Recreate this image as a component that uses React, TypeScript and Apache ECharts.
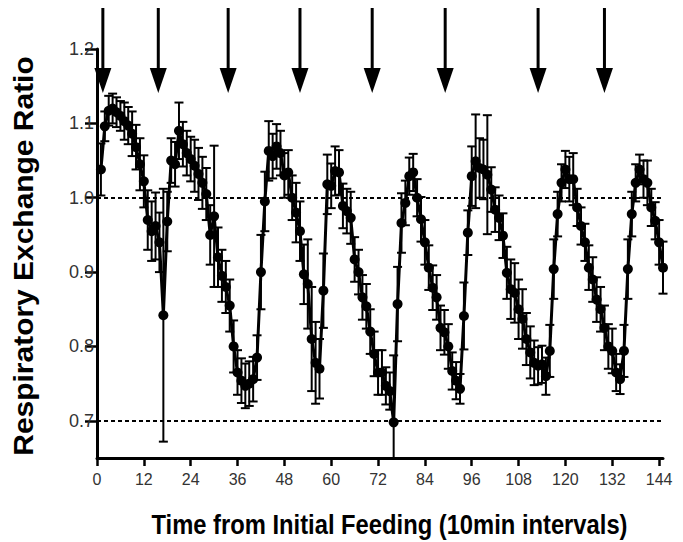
import React, { useEffect, useRef } from "react";
import * as echarts from "echarts";

// Respiratory exchange ratio, mean per 10-min interval (intervals 1..145)
const rerPart1 = [
  1.038, 1.096, 1.117, 1.12, 1.115, 1.11, 1.103, 1.097, 1.086, 1.068, 1.045, 1.022,
  0.97, 0.955, 0.962, 0.94, 0.842, 0.968, 1.05, 1.045, 1.09, 1.072, 1.06, 1.052,
  1.043, 1.032, 1.02, 1.005, 0.95, 0.975, 0.92, 0.895, 0.88, 0.855, 0.8, 0.765,
];
const rerPart2 = [
  0.754, 0.747, 0.75, 0.756, 0.785, 0.9, 0.995, 1.063, 1.056, 1.069, 1.06, 1.03,
  1.034, 1.0, 0.98, 0.955, 0.897, 0.884, 0.81, 0.778, 0.77, 0.875, 1.018, 1.016,
  1.036, 1.034, 0.989, 0.982, 0.973, 0.917, 0.9, 0.866, 0.854, 0.82, 0.79, 0.765,
];
const rerPart3 = [
  0.765, 0.747, 0.74, 0.698, 0.857, 0.966, 0.993, 1.029, 1.034, 1.0, 0.971, 0.94,
  0.906, 0.879, 0.866, 0.825, 0.819, 0.8, 0.767, 0.754, 0.743, 0.841, 0.953, 1.029,
  1.049, 1.04, 1.038, 1.031, 1.011, 0.984, 0.973, 0.949, 0.899, 0.877, 0.872, 0.85,
];
const rerPart4 = [
  0.837, 0.81, 0.792, 0.778, 0.774, 0.776, 0.76, 0.794, 0.904, 0.978, 1.02, 1.038,
  1.025, 1.025, 0.987, 0.962, 0.94, 0.906, 0.89, 0.863, 0.85, 0.825, 0.8, 0.794,
  0.765, 0.756, 0.794, 0.904, 0.978, 1.02, 1.038, 1.025, 1.02, 0.987, 0.969, 0.94,
  0.906,
];

// Error (SEM) per interval
const errPart1 = [
  0.035, 0.02, 0.02, 0.02, 0.02, 0.02, 0.025, 0.025, 0.03, 0.03, 0.035, 0.035,
  0.04, 0.04, 0.045, 0.04, 0.17, 0.04, 0.03, 0.03, 0.038, 0.03, 0.03, 0.03,
  0.035, 0.035, 0.035, 0.035, 0.04, 0.095, 0.04, 0.035, 0.035, 0.035, 0.035, 0.03,
];
const errPart2 = [
  0.03, 0.03, 0.03, 0.03, 0.03, 0.05, 0.04, 0.04, 0.03, 0.03, 0.03, 0.03,
  0.03, 0.03, 0.04, 0.04, 0.04, 0.06, 0.07, 0.055, 0.04, 0.05, 0.04, 0.03,
  0.033, 0.03, 0.03, 0.03, 0.035, 0.03, 0.03, 0.03, 0.03, 0.03, 0.03, 0.03,
];
const errPart3 = [
  0.03, 0.025, 0.025, 0.09, 0.05, 0.04, 0.03, 0.025, 0.025, 0.025, 0.03, 0.03,
  0.03, 0.03, 0.03, 0.03, 0.03, 0.03, 0.025, 0.025, 0.02, 0.045, 0.03, 0.04,
  0.063, 0.04, 0.04, 0.08, 0.03, 0.03, 0.03, 0.03, 0.035, 0.04, 0.04, 0.04,
];
const errPart4 = [
  0.04, 0.035, 0.035, 0.03, 0.025, 0.025, 0.025, 0.035, 0.04, 0.03, 0.025, 0.025,
  0.03, 0.035, 0.025, 0.025, 0.025, 0.03, 0.03, 0.03, 0.03, 0.03, 0.03, 0.03,
  0.025, 0.02, 0.035, 0.04, 0.03, 0.025, 0.02, 0.025, 0.03, 0.025, 0.025, 0.03,
  0.035,
];

// Feeding times (arrows), in 10-min intervals
const feedingTimes = [1.5, 15.7, 33.6, 52, 70.5, 89.2, 113, 130];

const xTickValues = [0, 12, 24, 36, 48, 60, 72, 84, 96, 108, 120, 132, 144];
const yTickValues = [0.7, 0.8, 0.9, 1.0, 1.1, 1.2];
const referenceLines = [1.0, 0.7];

const X_MIN = 0;
const X_MAX = 145;
const Y_MIN = 0.65;
const Y_MAX = 1.2;

const FONT = "'Liberation Sans', Arial, Helvetica, sans-serif";

export default function App() {
  const ref = useRef<HTMLDivElement>(null);

  useEffect(() => {
    if (!ref.current) return;
    const chart = echarts.init(ref.current, undefined, { renderer: "svg" });

    const rer = [...rerPart1, ...rerPart2, ...rerPart3, ...rerPart4];
    const err = [...errPart1, ...errPart2, ...errPart3, ...errPart4];
    const points = rer.map((v, i) => [i + 1, v]);
    const errPoints = rer.map((v, i) => [i + 1, v, err[i]]);
    const arrows = feedingTimes.map((t) => [t, Y_MAX]);

    const renderErr = (params: any, api: any) => {
      const x = api.value(0);
      const y = api.value(1);
      const e = api.value(2);
      const lo = Math.max(y - e, Y_MIN);
      const hi = Math.min(y + e, Y_MAX);
      const pLo = api.coord([x, lo]);
      const pHi = api.coord([x, hi]);
      const cap = 4.5;
      const style = { stroke: "#000", lineWidth: 2 };
      const children: any[] = [
        { type: "line", shape: { x1: pLo[0], y1: pLo[1], x2: pHi[0], y2: pHi[1] }, style },
        { type: "line", shape: { x1: pHi[0] - cap, y1: pHi[1], x2: pHi[0] + cap, y2: pHi[1] }, style },
      ];
      if (y - e >= Y_MIN) {
        children.push({
          type: "line",
          shape: { x1: pLo[0] - cap, y1: pLo[1], x2: pLo[0] + cap, y2: pLo[1] },
          style,
        });
      }
      return { type: "group", children };
    };

    const renderArrow = (params: any, api: any) => {
      const p = api.coord([api.value(0), api.value(1)]);
      const cx = p[0];
      const topY = p[1] - 41;
      const tipY = p[1] + 44;
      const headH = 25;
      const headHalf = 8.5;
      return {
        type: "group",
        children: [
          {
            type: "line",
            shape: { x1: cx, y1: topY, x2: cx, y2: tipY - headH + 2 },
            style: { stroke: "#000", lineWidth: 3 },
          },
          {
            type: "polygon",
            shape: {
              points: [
                [cx - headHalf, tipY - headH],
                [cx + headHalf, tipY - headH],
                [cx, tipY],
              ],
            },
            style: { fill: "#000" },
          },
        ],
      };
    };

    chart.setOption({
      animation: false,
      backgroundColor: "#fff",
      grid: { left: 97, top: 49, width: 566, height: 409, containLabel: false },
      xAxis: {
        type: "value",
        min: X_MIN,
        max: X_MAX,
        axisLine: { show: true, lineStyle: { color: "#000", width: 3 } },
        axisTick: {
          show: true,
          customValues: xTickValues,
          length: 8,
          lineStyle: { color: "#000", width: 2.5 },
        },
        axisLabel: {
          customValues: xTickValues,
          fontSize: 16,
          color: "#333",
          fontFamily: FONT,
          margin: 13,
        },
        splitLine: { show: false },
      },
      yAxis: {
        type: "value",
        min: Y_MIN,
        max: Y_MAX,
        axisLine: { show: true, lineStyle: { color: "#000", width: 3 } },
        axisTick: {
          show: true,
          customValues: yTickValues,
          length: 12,
          lineStyle: { color: "#000", width: 2.5 },
        },
        axisLabel: {
          customValues: yTickValues,
          fontSize: 18,
          color: "#333",
          fontFamily: FONT,
          margin: 3,
          formatter: (v: number) => v.toFixed(1),
        },
        splitLine: { show: false },
      },
      graphic: [
        {
          type: "text",
          x: 389.5,
          y: 524,
          scaleX: 0.88,
          style: {
            text: "Time from Initial Feeding (10min intervals)",
            font: `bold 27px ${FONT}`,
            fill: "#000",
            textAlign: "center",
            textVerticalAlign: "middle",
          },
        },
        {
          type: "text",
          x: 23,
          y: 256,
          rotation: Math.PI / 2,
          scaleX: 1.07,
          style: {
            text: "Respiratory Exchange Ratio",
            font: `bold 28px ${FONT}`,
            fill: "#000",
            textAlign: "center",
            textVerticalAlign: "middle",
          },
        },
      ],
      series: [
        {
          type: "custom",
          name: "error",
          renderItem: renderErr,
          data: errPoints,
          encode: { x: 0, y: 1 },
          z: 2,
          silent: true,
        },
        {
          type: "line",
          name: "RER",
          data: points,
          symbol: "circle",
          symbolSize: 10,
          lineStyle: { color: "#000", width: 3 },
          itemStyle: { color: "#000" },
          z: 3,
          markLine: {
            silent: true,
            symbol: "none",
            label: { show: false },
            lineStyle: { color: "#000", width: 2, type: [4, 3] },
            data: referenceLines.map((v) => ({ yAxis: v })),
          },
        },
        {
          type: "custom",
          name: "feeding",
          renderItem: renderArrow,
          data: arrows,
          encode: { x: 0, y: 1 },
          clip: false,
          z: 4,
          silent: true,
        },
      ],
    });

    return () => chart.dispose();
  }, []);

  return (
    <div
      ref={ref}
      style={{ position: "fixed", left: 0, top: 0, width: 683, height: 542, background: "#fff" }}
    />
  );
}
